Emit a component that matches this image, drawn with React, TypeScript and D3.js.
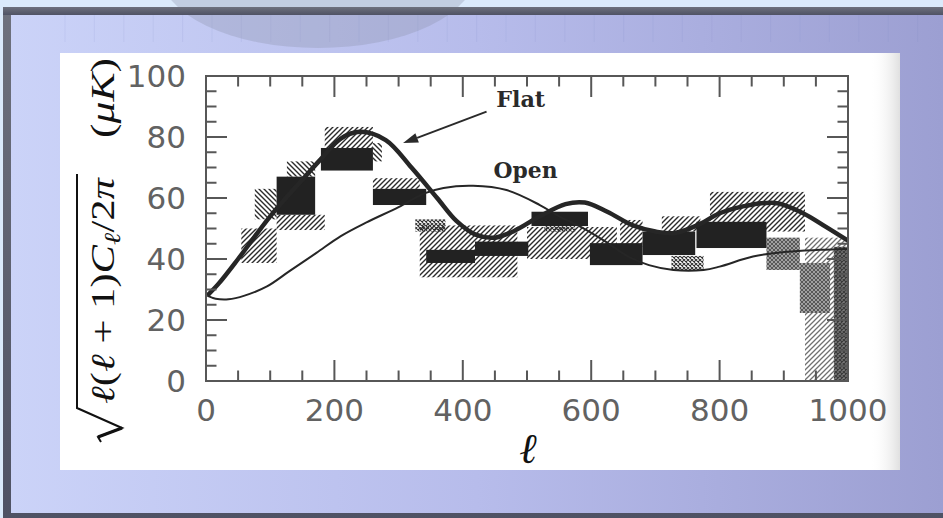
import React from "react";
import * as d3 from "d3";

// Multipole range and amplitude range of the power-spectrum panel
const L_DOMAIN: [number, number] = [0, 1000];
const T_DOMAIN: [number, number] = [0, 100];
const X_TICK_LABELS = [0, 200, 400, 600, 800, 1000];
const Y_TICK_LABELS = [0, 20, 40, 60, 80, 100];

// Flat-universe model curve: [ℓ, ΔT in μK]
const flatCurve: [number, number][] = [
  [2, 28], [20, 32], [50, 40], [100, 54], [150, 66], [180, 73], [210, 79.5],
  [240, 81.7], [280, 79], [320, 70], [360, 60], [390, 52.5], [420, 48],
  [450, 47], [480, 49.2], [520, 54], [560, 58], [590, 58.5], [625, 55.5],
  [665, 51], [700, 49], [730, 48.5], [770, 51.5], [800, 55], [850, 57.8],
  [890, 58.3], [930, 55], [965, 50.6], [1000, 46],
];

// Open-universe model curve: [ℓ, ΔT in μK]
const openCurve: [number, number][] = [
  [2, 28], [15, 27], [35, 26.8], [60, 28], [95, 31], [130, 36], [172, 42],
  [210, 47.5], [250, 52], [300, 57], [340, 61.5], [370, 63.3], [416, 64],
  [468, 62.6], [520, 57.7], [550, 54], [583, 50.6], [620, 46], [660, 40.5],
  [690, 38], [728, 36.4], [775, 36.4], [800, 37.5], [852, 40.8], [905, 42.4],
  [956, 43], [1000, 43.3],
];

// Band-power measurements drawn solid: [ℓ from, ℓ to, ΔT low, ΔT high]
const solidBands: [number, number, number, number][] = [
  [110, 170, 54.5, 67],
  [179, 260, 69, 76.4],
  [260, 343, 57.7, 63],
  [343, 419, 38.7, 43],
  [419, 502, 41, 45.7],
  [507, 595, 50.8, 55.5],
  [598, 680, 38, 45.2],
  [680, 762, 41.3, 49],
  [764, 873, 43.6, 52.2],
];

// Hatched measurement boxes: [ℓ from, ℓ to, ΔT low, ΔT high, hatch style]
const hatchedBands: [number, number, number, number, string][] = [
  [55, 110, 38.7, 50, "fwd"],
  [76, 110, 53, 63, "bwd"],
  [126, 170, 67, 72, "bwd"],
  [110, 185, 49.5, 54.5, "fwd"],
  [185, 260, 76, 83.3, "fwd"],
  [260, 274, 72, 78, "bwd"],
  [260, 333, 63, 66.5, "fwd"],
  [333, 485, 34, 51, "fwd"],
  [326, 373, 49, 53, "cross"],
  [500, 640, 40, 50.5, "fwd"],
  [527, 575, 49, 51, "cross"],
  [645, 680, 44, 52.8, "fwd"],
  [710, 770, 49, 54, "fwd"],
  [725, 775, 36.4, 41, "cross"],
  [785, 933, 49, 62, "fwd"],
  [873, 925, 36.4, 47, "grayCross"],
  [933, 998, 0, 47, "light"],
  [925, 972, 22.3, 38.7, "grayCross"],
  [978, 1000, 0, 44, "dark"],
];

// Annotation anchors: [ℓ, ΔT]
const flatLabel: [number, number] = [452, 89.7];
const openLabel: [number, number] = [448, 66.5];
const arrowFrom: [number, number] = [437, 88.3];
const arrowTo: [number, number] = [307, 78];

const W = 943;
const H = 518;

export default function App() {
  const x = d3.scaleLinear().domain(L_DOMAIN).range([206, 848]);
  const y = d3.scaleLinear().domain(T_DOMAIN).range([381, 76]);

  const line = d3
    .line<[number, number]>()
    .x((d) => x(d[0]))
    .y((d) => y(d[1]))
    .curve(d3.curveCatmullRom.alpha(0.5));

  const xTicks = d3.range(0, 1001, 50);
  const yTicks = d3.range(0, 101, 5);
  const deco = d3.range(65, W, 29.4);

  const ax = "#575757";
  const ink = "#262626";

  // arrow geometry
  const ax0 = x(arrowFrom[0]);
  const ay0 = y(arrowFrom[1]);
  const ax1 = x(arrowTo[0]);
  const ay1 = y(arrowTo[1]);
  const ang = Math.atan2(ay1 - ay0, ax1 - ax0);
  const headLen = 15;
  const headW = 5;
  const bx = ax1 - headLen * Math.cos(ang);
  const by = ay1 - headLen * Math.sin(ang);
  const head = `M${ax1},${ay1} L${bx - headW * Math.sin(ang)},${by + headW * Math.cos(ang)} L${bx + headW * Math.sin(ang)},${by - headW * Math.cos(ang)} Z`;

  const serif = "'Liberation Serif', 'DejaVu Serif', serif";

  return (
    <svg
      width={W}
      height={H}
      viewBox={`0 0 ${W} ${H}`}
      style={{ position: "absolute", left: 0, top: 0, display: "block" }}
    >
      <defs>
        <linearGradient id="slideBg" x1="0" y1="0" x2="1" y2="0">
          <stop offset="0" stopColor="#cbd3f8" />
          <stop offset="0.5" stopColor="#b7bceb" />
          <stop offset="1" stopColor="#9c9fd2" />
        </linearGradient>
        <linearGradient id="frameTop" x1="0" y1="0" x2="0" y2="1">
          <stop offset="0" stopColor="#6e717d" />
          <stop offset="1" stopColor="#4f5264" />
        </linearGradient>
        <linearGradient id="pageEdge" x1="0" y1="0" x2="1" y2="0">
          <stop offset="0" stopColor="#ffffff" stopOpacity="0" />
          <stop offset="1" stopColor="#d8d8d8" stopOpacity="0.8" />
        </linearGradient>
        <pattern id="fwd" width="5" height="5" patternUnits="userSpaceOnUse">
          <path d="M-1,1 l2,-2 M0,5 l5,-5 M4,6 l2,-2" stroke="#2b2b2b" strokeWidth="1.4" />
        </pattern>
        <pattern id="bwd" width="5" height="5" patternUnits="userSpaceOnUse">
          <path d="M-1,4 l2,2 M0,0 l5,5 M4,-1 l2,2" stroke="#2b2b2b" strokeWidth="1.4" />
        </pattern>
        <pattern id="light" width="5" height="5" patternUnits="userSpaceOnUse">
          <path d="M-1,1 l2,-2 M0,5 l5,-5 M4,6 l2,-2" stroke="#707070" strokeWidth="1.3" />
        </pattern>
        <pattern id="cross" width="4" height="4" patternUnits="userSpaceOnUse">
          <path d="M0,4 l4,-4 M0,0 l4,4" stroke="#333" strokeWidth="1.1" />
        </pattern>
        <pattern id="grayCross" width="4" height="4" patternUnits="userSpaceOnUse">
          <rect width="4" height="4" fill="#a0a0a0" />
          <path d="M0,4 l4,-4 M0,0 l4,4" stroke="#585858" strokeWidth="1" />
        </pattern>
        <pattern id="dark" width="4" height="4" patternUnits="userSpaceOnUse">
          <rect width="4" height="4" fill="#7a7a7a" />
          <path d="M0,4 l4,-4 M0,0 l4,4" stroke="#3a3a3a" strokeWidth="1.2" />
        </pattern>
      </defs>

      {/* slide background */}
      <rect x={0} y={0} width={W} height={H} fill="#dbeafb" />
      <rect x={3} y={7} width={W - 3} height={H - 7} fill="url(#frameTop)" />
      <rect x={11} y={15} width={W - 11} height={498} fill="url(#slideBg)" />
      {deco.map((d) => (
        <line key={d} x1={d} x2={d} y1={15} y2={42} stroke="#7f86c8" strokeOpacity={0.12} strokeWidth={1} />
      ))}
      <ellipse cx={318} cy={-28} rx={158} ry={76} fill="#8890a5" fillOpacity={0.3} />
      <rect x={3} y={7} width={W - 3} height={8} fill="url(#frameTop)" />

      {/* scanned page */}
      <rect x={60} y={53} width={840} height={417} fill="#ffffff" />
      <rect x={870} y={53} width={30} height={417} fill="url(#pageEdge)" />

      {/* hatched measurement boxes */}
      {hatchedBands.map(([l0, l1, v0, v1, kind], i) => (
        <rect
          key={`h${i}`}
          x={x(l0)}
          y={y(v1)}
          width={x(l1) - x(l0)}
          height={y(v0) - y(v1)}
          fill={`url(#${kind})`}
        />
      ))}

      {/* solid measurement boxes */}
      {solidBands.map(([l0, l1, v0, v1], i) => (
        <rect
          key={`s${i}`}
          x={x(l0)}
          y={y(v1)}
          width={x(l1) - x(l0)}
          height={y(v0) - y(v1)}
          fill="#222"
        />
      ))}

      {/* model curves */}
      <path d={line(openCurve) || ""} fill="none" stroke={ink} strokeWidth={2} />
      <path d={line(flatCurve) || ""} fill="none" stroke={ink} strokeWidth={4.5} strokeLinejoin="round" />

      {/* frame and ticks */}
      <rect x={x(0)} y={y(100)} width={x(1000) - x(0)} height={y(0) - y(100)} fill="none" stroke={ax} strokeWidth={2} />
      {xTicks.map((t) => {
        const len = t % 200 === 0 ? 21 : 10.5;
        return (
          <g key={`xt${t}`} stroke={ax} strokeWidth={2}>
            <line x1={x(t)} x2={x(t)} y1={y(0)} y2={y(0) - len} />
            <line x1={x(t)} x2={x(t)} y1={y(100)} y2={y(100) + len} />
          </g>
        );
      })}
      {yTicks.map((t) => {
        const len = t % 20 === 0 ? 21 : 10.5;
        return (
          <g key={`yt${t}`} stroke={ax} strokeWidth={2}>
            <line x1={x(0)} x2={x(0) + len} y1={y(t)} y2={y(t)} />
            <line x1={x(1000)} x2={x(1000) - len} y1={y(t)} y2={y(t)} />
          </g>
        );
      })}

      {/* tick labels */}
      <g fill="#626262" fontFamily="'DejaVu Sans', sans-serif" fontSize={31}>
        {X_TICK_LABELS.map((t) => (
          <text key={`xl${t}`} x={x(t)} y={421} textAnchor="middle">
            {t}
          </text>
        ))}
        {Y_TICK_LABELS.map((t) => (
          <text key={`yl${t}`} x={186} y={y(t)} dy="0.36em" textAnchor="end">
            {t}
          </text>
        ))}
      </g>

      {/* curve annotations */}
      <g fill="#2a2a2a" fontFamily="'DejaVu Serif', serif" fontWeight="bold" fontSize={22}>
        <text x={x(flatLabel[0])} y={y(flatLabel[1])} textLength={49} lengthAdjust="spacingAndGlyphs">Flat</text>
        <text x={x(openLabel[0])} y={y(openLabel[1])} textLength={64} lengthAdjust="spacingAndGlyphs">Open</text>
      </g>
      <line x1={ax0} y1={ay0} x2={bx} y2={by} stroke="#2a2a2a" strokeWidth={2} />
      <path d={head} fill="#2a2a2a" />

      {/* axis titles */}
      <text x={528} y={463} textAnchor="middle" fontFamily={serif} fontStyle="italic" fontSize={42} fill="#111">
        ℓ
      </text>
      <g transform="translate(114,442) rotate(-90)" fill="#111" fontFamily={serif}>
        <path d="M0,-13 L5,-16 L14,8 L34,-37 L268,-37" fill="none" stroke="#111" strokeWidth={2} strokeLinejoin="miter" />
        <path d="M5,-16 L14,8" fill="none" stroke="#111" strokeWidth={3.2} />
        <text x={38} y={0} fontSize={33} textLength={226} lengthAdjust="spacingAndGlyphs">
          <tspan fontStyle="italic">ℓ</tspan>
          <tspan>(</tspan>
          <tspan fontStyle="italic">ℓ</tspan>
          <tspan> + 1)</tspan>
          <tspan fontStyle="italic">C</tspan>
          <tspan fontStyle="italic" fontSize={23} dy={6}>ℓ</tspan>
          <tspan dy={-6}>/2</tspan>
          <tspan fontStyle="italic">π</tspan>
        </text>
        <text x={304} y={0} fontSize={33} textLength={80} lengthAdjust="spacingAndGlyphs">
          <tspan>(</tspan>
          <tspan fontStyle="italic">μK</tspan>
          <tspan>)</tspan>
        </text>
      </g>
    </svg>
  );
}
